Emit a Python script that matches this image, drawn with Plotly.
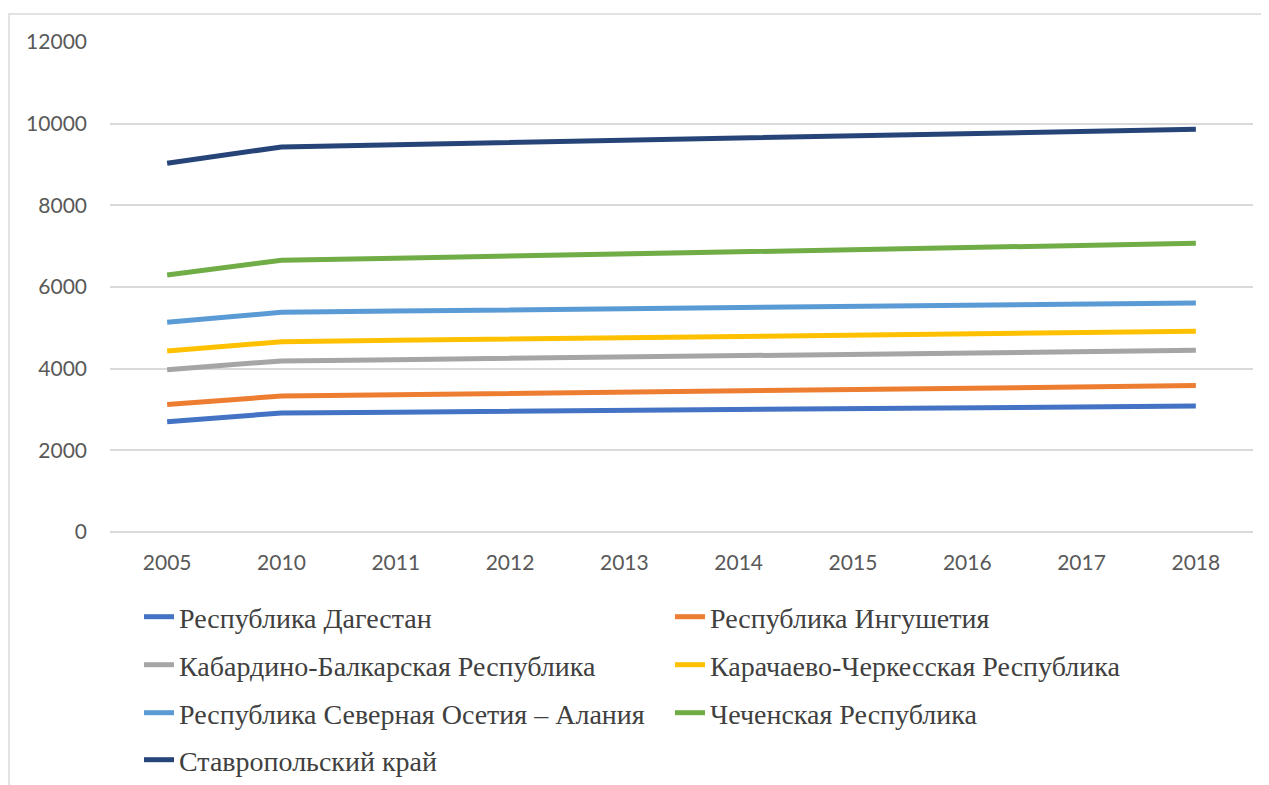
import plotly.graph_objects as go

years = ["2005", "2010", "2011", "2012", "2013", "2014", "2015", "2016", "2017", "2018"]

dagestan = [2700, 2915, 2935, 2955, 2980, 3000, 3020, 3045, 3065, 3085]
ingushetia = [3120, 3330, 3360, 3395, 3425, 3455, 3490, 3520, 3550, 3585]
kabardino = [3975, 4190, 4220, 4255, 4285, 4320, 4350, 4385, 4420, 4450]
karachaevo = [4435, 4660, 4695, 4725, 4755, 4790, 4820, 4850, 4885, 4915]
osetia = [5135, 5380, 5410, 5440, 5465, 5495, 5525, 5550, 5580, 5610]
chechnya = [6295, 6655, 6705, 6760, 6810, 6860, 6915, 6965, 7020, 7070]
stavropol = [9030, 9430, 9485, 9540, 9590, 9645, 9700, 9755, 9810, 9865]

names = [
    "Республика Дагестан",
    "Республика Ингушетия",
    "Кабардино-Балкарская Республика",
    "Карачаево-Черкесская Республика",
    "Республика Северная Осетия – Алания",
    "Чеченская Республика",
    "Ставропольский край",
]
series = [dagestan, ingushetia, kabardino, karachaevo, osetia, chechnya, stavropol]
colors = ["#4472C4", "#ED7D31", "#A5A5A5", "#FFC000", "#5B9BD5", "#70AD47", "#264478"]
legend_ids = ["legend", "legend", "legend2", "legend2", "legend3", "legend3", "legend4"]

OFF = 8  # page body margin
W, H = 1261, 777
L, R, T, B = 102, 16, 34, 253
pw, ph = W - L - R, H - T - B

def py(p):
    return (H - B - (p - OFF)) / ph

def px(p):
    return (p - OFF - L) / pw

fig = go.Figure()
for n, s, c, lg in zip(names, series, colors, legend_ids):
    fig.add_trace(go.Scatter(x=years, y=s, name=n, mode="lines",
                             line=dict(color=c, width=5), legend=lg))

legend_font = dict(family="Liberation Serif", size=28, color="#404040")
row_y = [617, 665, 713, 760]
common = dict(orientation="h", xanchor="left", yanchor="middle",
              font=legend_font, entrywidth=486, entrywidthmode="pixels",
              bgcolor="rgba(0,0,0,0)", itemclick=False)
layout_legends = {}
for i, lid in enumerate(["legend", "legend2", "legend3", "legend4"]):
    layout_legends[lid] = dict(x=px(139), y=py(row_y[i]), **common)

fig.update_layout(
    width=W, height=H,
    margin=dict(l=L, r=R, t=T, b=B, autoexpand=False),
    paper_bgcolor="white", plot_bgcolor="white",
    showlegend=True,
    **layout_legends,
    xaxis=dict(type="category", range=[-0.5, 9.5], showgrid=False,
               showline=False, zeroline=False, ticks="",
               ticklabelstandoff=16, automargin=False,
               tickfont=dict(family="Lato", size=21, color="#595959")),
    yaxis=dict(range=[0, 12000], dtick=2000, tickformat="d", showgrid=True,
               gridcolor="#D9D9D9", gridwidth=1.5, zeroline=True,
               zerolinecolor="#D9D9D9", zerolinewidth=1.5,
               showline=False, ticks="", ticklabelstandoff=22, automargin=False,
               tickfont=dict(family="Lato", size=21, color="#595959")),
    shapes=[dict(type="rect", xref="paper", yref="paper",
                 x0=px(9), x1=px(1290), y0=py(800), y1=py(14),
                 line=dict(color="#D9D9D9", width=1.5), layer="below")],
)

fig.write_html("out.html")
